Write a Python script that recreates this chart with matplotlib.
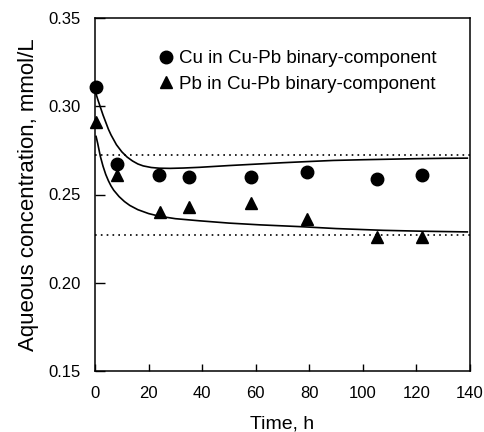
import matplotlib.pyplot as plt

# measured points
time_cu = [0.4, 8.3, 24.0, 35.2, 58.1, 79.0, 105.2, 122.0]
conc_cu = [0.311, 0.267, 0.261, 0.260, 0.260, 0.263, 0.259, 0.261]
time_pb = [0.4, 8.3, 24.3, 35.2, 58.1, 79.0, 105.2, 122.0]
conc_pb = [0.291, 0.261, 0.240, 0.243, 0.245, 0.236, 0.226, 0.226]

# model curves
fit_t_cu = [0.4, 1, 2, 3, 4, 5, 6, 8, 10, 12, 14, 16, 18, 21, 24, 28, 33, 39, 50, 60,
            70, 80, 89, 100, 110, 120, 130, 139]
fit_c_cu = [0.3070, 0.3040, 0.2995, 0.2950, 0.2910, 0.2870, 0.2837, 0.2782, 0.2742,
            0.2712, 0.2690, 0.2673, 0.2662, 0.2653, 0.2649, 0.2648, 0.2650, 0.2654,
            0.2664, 0.2672, 0.2680, 0.2687, 0.2693, 0.2697, 0.2700, 0.2703, 0.2705, 0.2706]
fit_t_pb = [0.4, 1, 2, 3, 4, 5, 6, 7, 9, 11, 13, 16, 20, 24, 30, 39, 50, 61.6, 76.5,
            90, 107.6, 122, 139]
fit_c_pb = [0.2829, 0.2790, 0.2716, 0.2660, 0.2614, 0.2578, 0.2548, 0.2524, 0.2488,
            0.2460, 0.2438, 0.2414, 0.2392, 0.2377, 0.2363, 0.2351, 0.2338, 0.2328,
            0.2318, 0.2307, 0.2297, 0.2292, 0.2288]

# equilibrium levels (dotted)
level_cu = 0.2725
level_pb = 0.2272

plt.rcParams['font.family'] = ['Liberation Sans', 'DejaVu Sans']

fig = plt.figure(figsize=(4.84, 4.32), dpi=100)
ax = fig.add_axes([95 / 484, 61 / 432, 375 / 484, 353 / 432])

ax.axhline(level_cu, color='black', linestyle=(0, (1, 2.5)), linewidth=1.2)
ax.axhline(level_pb, color='black', linestyle=(0, (1, 2.5)), linewidth=1.2)
ax.plot(fit_t_cu, fit_c_cu, color='black', linewidth=1.2)
ax.plot(fit_t_pb, fit_c_pb, color='black', linewidth=1.2)
ax.plot(time_cu, conc_cu, 'o', color='black', markersize=9, clip_on=False,
        label='Cu in Cu-Pb binary-component')
ax.plot(time_pb, conc_pb, '^', color='black', markersize=9, clip_on=False,
        label='Pb in Cu-Pb binary-component')

ax.set_xlim(0, 140)
ax.set_ylim(0.15, 0.35)
ax.set_xticks(range(0, 141, 20))
ax.set_yticks([0.15, 0.20, 0.25, 0.30, 0.35])
ax.set_yticklabels(['0.15', '0.20', '0.25', '0.30', '0.35'])
ax.tick_params(direction='in', length=5, width=1, labelsize=12, pad=11)
ax.tick_params(axis='y', length=7, pad=10)
for s in ax.spines.values():
    s.set_linewidth(1.1)

ax.set_xlabel('Time, h', fontsize=14, labelpad=10)
ax.set_ylabel('Aqueous concentration, mmol/L', fontsize=16, labelpad=7)

ax.legend(loc='upper left', bbox_to_anchor=(0.15, 0.93), frameon=False,
          fontsize=13.5, handlelength=0.8, handletextpad=0.3, borderaxespad=0,
          labelspacing=0.45, markerscale=1.0)

plt.savefig('out.png', dpi=100)
